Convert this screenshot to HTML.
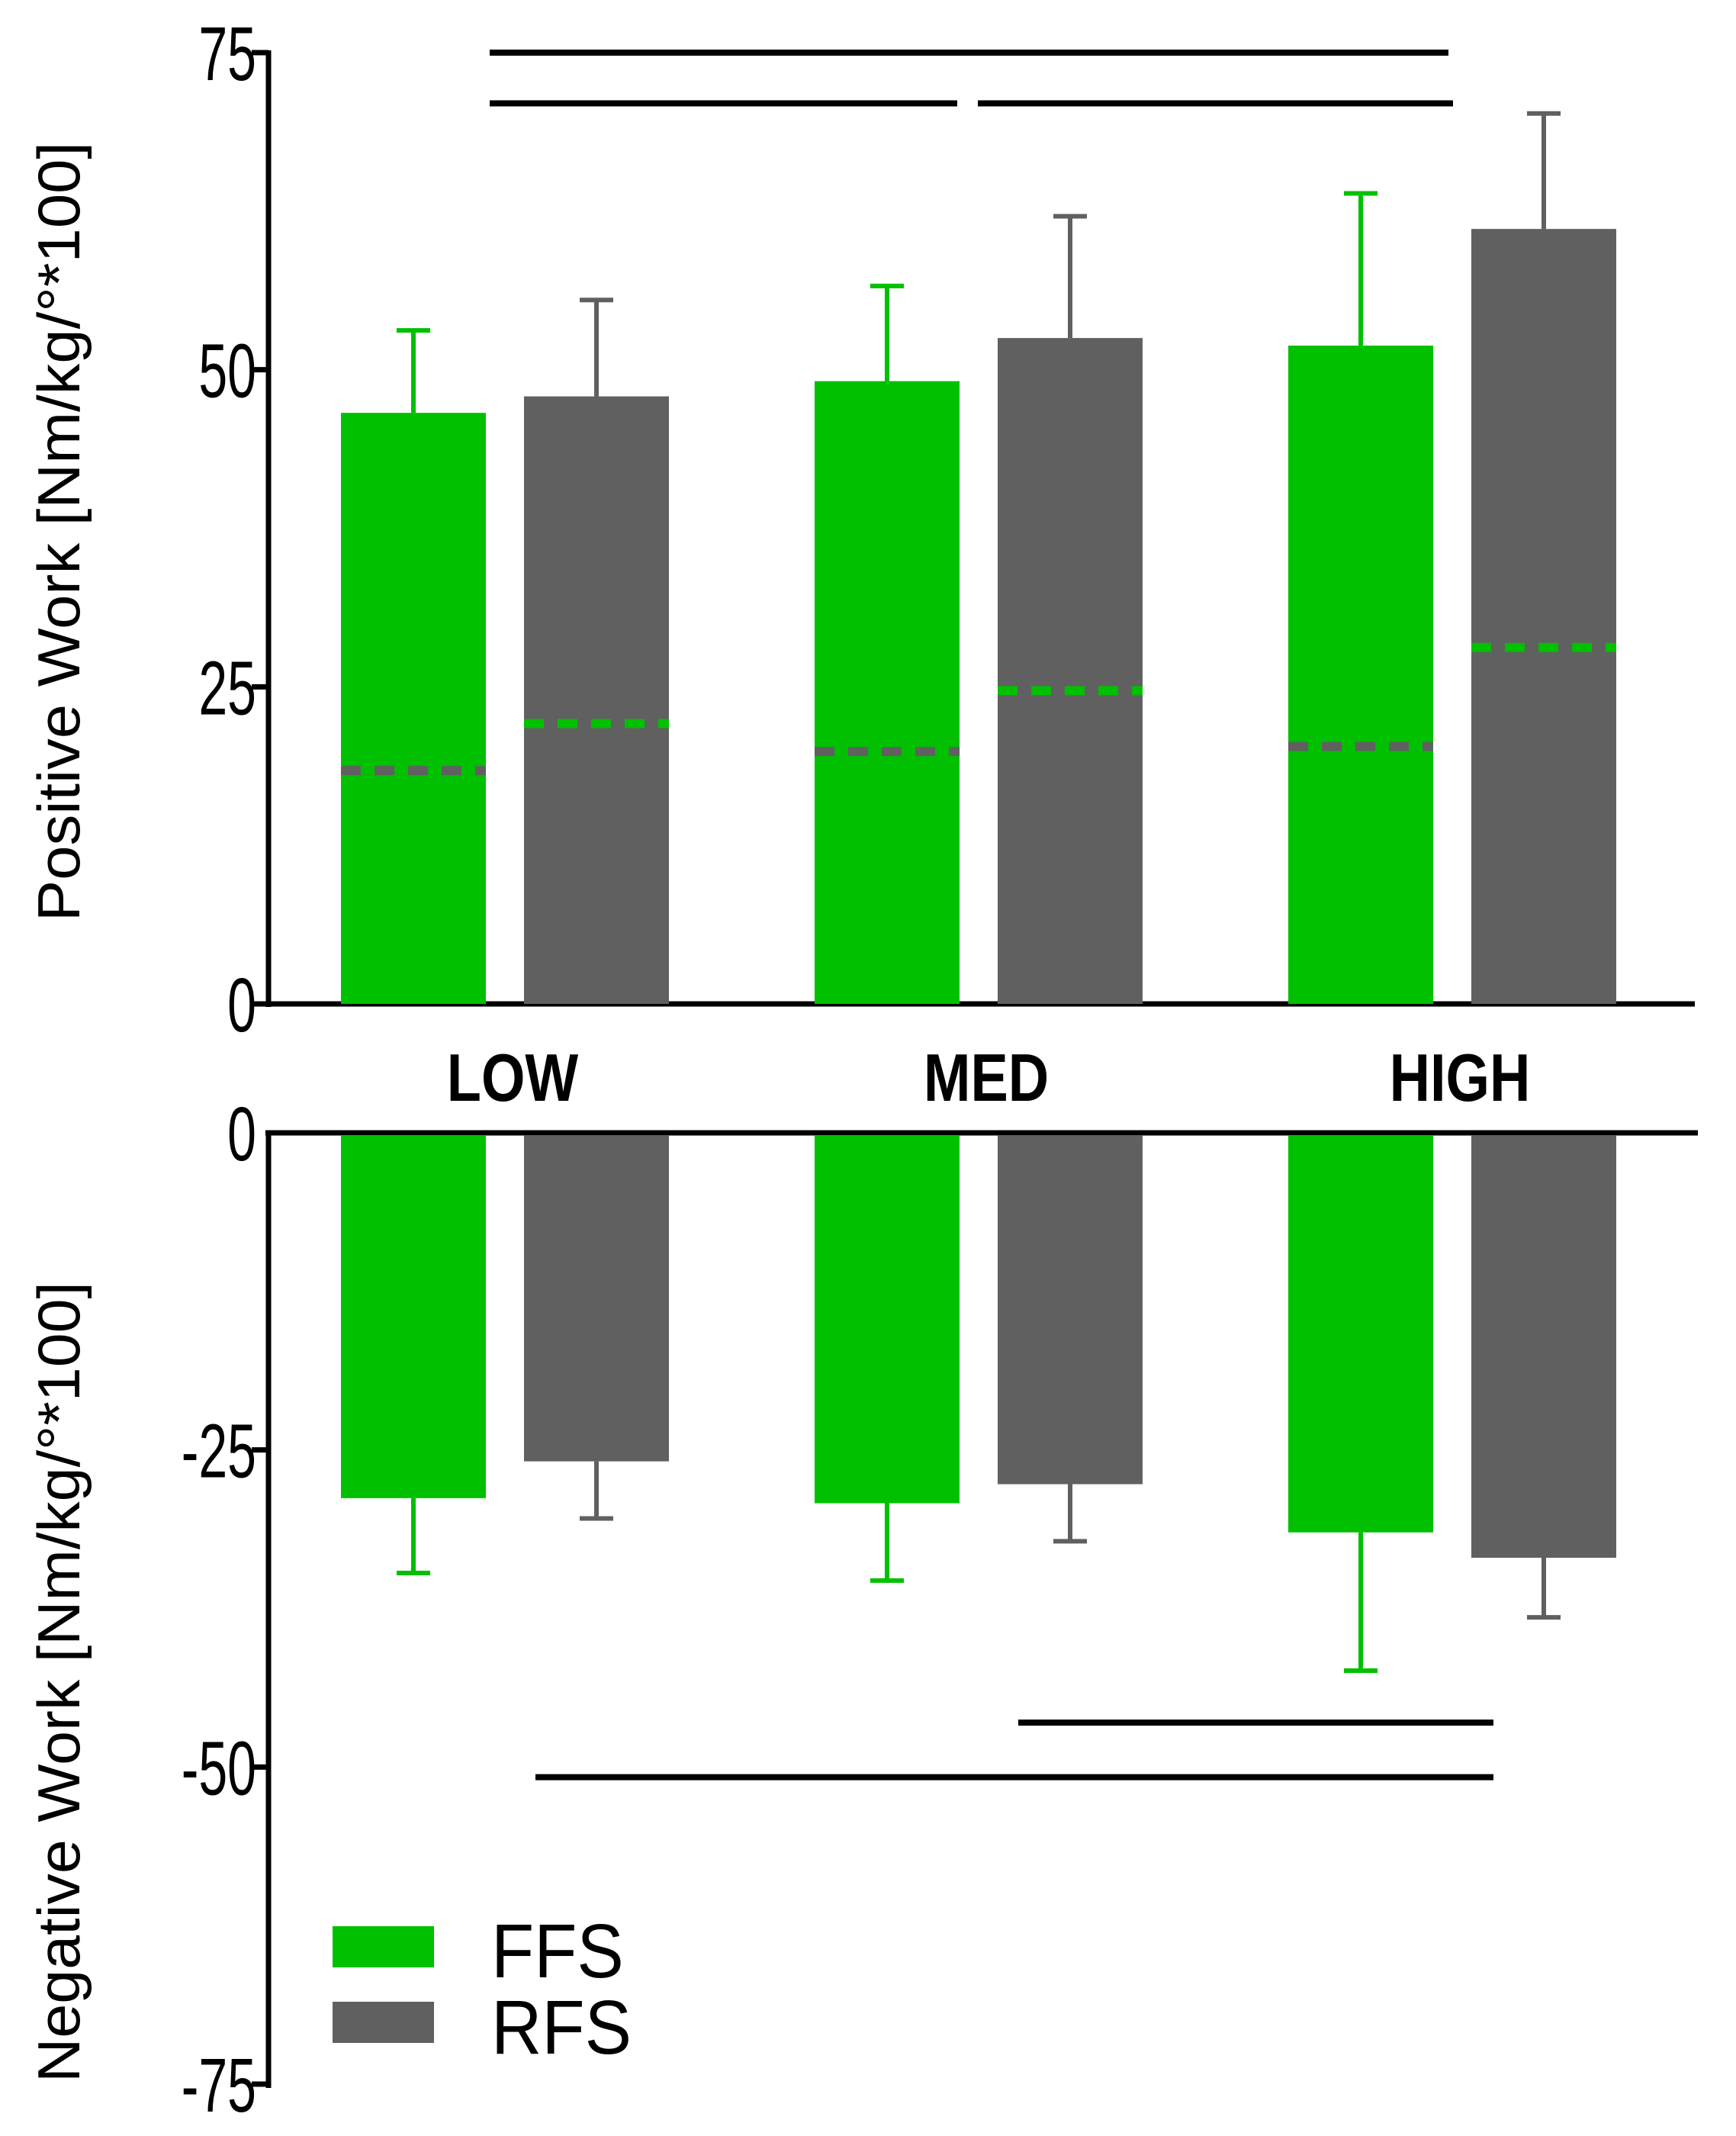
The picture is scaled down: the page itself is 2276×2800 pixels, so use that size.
<!DOCTYPE html>
<html><head><meta charset="utf-8"><style>
html,body{margin:0;padding:0;background:#fff}
svg{display:block}
text{font-family:"Liberation Sans",sans-serif}
</style></head><body>
<svg id="chart" width="2276" height="2800" viewBox="0 0 2276 2800" xmlns="http://www.w3.org/2000/svg"></svg>
<script>
const categories = ["LOW","MED","HIGH"];
const seriesNames = ["FFS","RFS"];
const posFFS = [46.6, 49.1, 51.9];
const posFFSErr = [53.1, 56.6, 63.9];
const posRFS = [47.9, 52.5, 61.1];
const posRFSErr = [55.5, 62.1, 70.2];
const dashFFS = [18.4, 19.9, 20.3];
const dashRFS = [22.1, 24.7, 28.1];
const negFFS = [-28.8, -29.2, -31.5];
const negFFSErr = [-34.7, -35.3, -42.4];
const negRFS = [-25.9, -27.7, -33.5];
const negRFSErr = [-30.4, -32.2, -38.2];
const posTicks = [0, 25, 50, 75];
const negTicks = [0, -25, -50, -75];
const posSig = [[75, 0, 2], [71, 0, 1], [71, 1, 2]];
const negSig = [[-46.5, 1, 2], [-50.8, 0, 2]];

const svg = document.getElementById('chart');
const NS = 'http://www.w3.org/2000/svg';
const GREEN = '#00c000', GRAY = '#606060';
const unit = (1316 - 69) / 75;
const yPos = v => 1316 - v * unit;
const yNeg = v => 1485 - v * unit;
const xCenter = i => 662 + i * 621;
const barOff = 120, barW = 190;
function el(tag, attrs, parent) {
  const e = document.createElementNS(NS, tag);
  for (const k in attrs) e.setAttribute(k, attrs[k]);
  (parent || svg).appendChild(e);
  return e;
}
let a = el('line', {x1: 352, y1: 66, x2: 352, y2: 1320, stroke: '#000', 'stroke-width': 7});


a = el('line', {x1: 348, y1: 1316, x2: 2222, y2: 1316, stroke: '#000', 'stroke-width': 7});


a = el('line', {x1: 352, y1: 1482, x2: 352, y2: 2737, stroke: '#000', 'stroke-width': 7});


a = el('line', {x1: 348, y1: 1485, x2: 2226, y2: 1485, stroke: '#000', 'stroke-width': 7});



function tickLabel(y, label, name) {
  const t = el('text', {x: 0, y: 0, 'font-size': 100, 'text-anchor': 'end', transform: `translate(336 ${y + 36}) scale(0.68 1)`});
  t.textContent = label;
  
  
}
function tick(y, label, name) {
  const l = el('line', {x1: 330, y1: y, x2: 352, y2: y, stroke: '#000', 'stroke-width': 7});
  
  
  tickLabel(y, label, name);
}
posTicks.forEach(v => tick(yPos(v), String(v), 'positive-y'));
negTicks.forEach(v => { if (v !== 0) tick(yNeg(v), String(v), 'negative-y'); else tickLabel(yNeg(v), '0', 'negative-y'); });

function bar(x, y0, y1, color, name) {
  const r = el('rect', {x: x - barW / 2, y: Math.min(y0, y1), width: barW, height: Math.abs(y1 - y0), fill: color});
  
  
}
function err(x, yFrom, yTo, color, name) {
  const g = el('g', {stroke: color, 'stroke-width': 6});
  
  
  el('line', {x1: x, y1: yFrom, x2: x, y2: yTo}, g);
  el('line', {x1: x - 22, y1: yTo, x2: x + 22, y2: yTo}, g);
}
function dash(x, y, color, name) {
  const l = el('line', {x1: x - barW / 2, y1: y, x2: x + barW / 2, y2: y, stroke: color, 'stroke-width': 12, 'stroke-dasharray': '26 18'});
  
  
}
categories.forEach((c, i) => {
  const xf = xCenter(i) - barOff, xr = xCenter(i) + barOff;
  const k = c.toLowerCase();
  err(xf, yPos(posFFS[i]), yPos(posFFSErr[i]), GREEN, 'error-bar-pos-ffs-' + k);
  err(xr, yPos(posRFS[i]), yPos(posRFSErr[i]), GRAY, 'error-bar-pos-rfs-' + k);
  bar(xf, yPos(0), yPos(posFFS[i]), GREEN, 'bar-pos-ffs-' + k);
  bar(xr, yPos(0), yPos(posRFS[i]), GRAY, 'bar-pos-rfs-' + k);
  dash(xf, yPos(dashFFS[i]), GRAY, 'dashed-ref-ffs-' + k);
  dash(xr, yPos(dashRFS[i]), GREEN, 'dashed-ref-rfs-' + k);
  err(xf, yNeg(negFFS[i]), yNeg(negFFSErr[i]), GREEN, 'error-bar-neg-ffs-' + k);
  err(xr, yNeg(negRFS[i]), yNeg(negRFSErr[i]), GRAY, 'error-bar-neg-rfs-' + k);
  bar(xf, yNeg(0) + 3, yNeg(negFFS[i]), GREEN, 'bar-neg-ffs-' + k);
  bar(xr, yNeg(0) + 3, yNeg(negRFS[i]), GRAY, 'bar-neg-rfs-' + k);
  const t = el('text', {x: 0, y: 0, 'font-size': 88, 'font-weight': 'bold', 'text-anchor': 'middle', transform: `translate(${xCenter(i) + 10} 1443) scale(0.84 1)`});
  t.textContent = c;
  
  
});
const posSigX = [[642, 1899], [642, 1255], [1282, 1905]];
posSig.forEach(([v, g1, g2], j) => {
  const l = el('line', {x1: posSigX[j][0], y1: yPos(v), x2: posSigX[j][1], y2: yPos(v), stroke: '#000', 'stroke-width': 8});
  
  
});
negSig.forEach(([v, g1, g2]) => {
  const x1 = g1 === 1 ? 1335 : 702, x2 = 1958;
  const l = el('line', {x1, y1: yNeg(v), x2, y2: yNeg(v), stroke: '#000', 'stroke-width': 8});
  
  
});
let t = el('text', {x: 0, y: 0, 'font-size': 78, 'text-anchor': 'middle', textLength: 1022, lengthAdjust: 'spacingAndGlyphs', transform: 'translate(104 697) rotate(-90)'});
t.textContent = 'Positive Work [Nm/kg/\u00b0*100]';


t = el('text', {x: 0, y: 0, 'font-size': 78, 'text-anchor': 'middle', textLength: 1050, lengthAdjust: 'spacingAndGlyphs', transform: 'translate(104 2205) rotate(-90)'});
t.textContent = 'Negative Work [Nm/kg/\u00b0*100]';


[[GREEN, 2525, 'FFS', 2592], [GRAY, 2624, 'RFS', 2692]].forEach(([c, y, lab, by]) => {
  const r = el('rect', {x: 436, y, width: 133, height: 54, fill: c});
  
  
  const tx = el('text', {x: 0, y: 0, 'font-size': 100, transform: `translate(644 ${by}) scale(0.92 1)`});
  tx.textContent = lab;
  
  
});
</script>
</body></html>
